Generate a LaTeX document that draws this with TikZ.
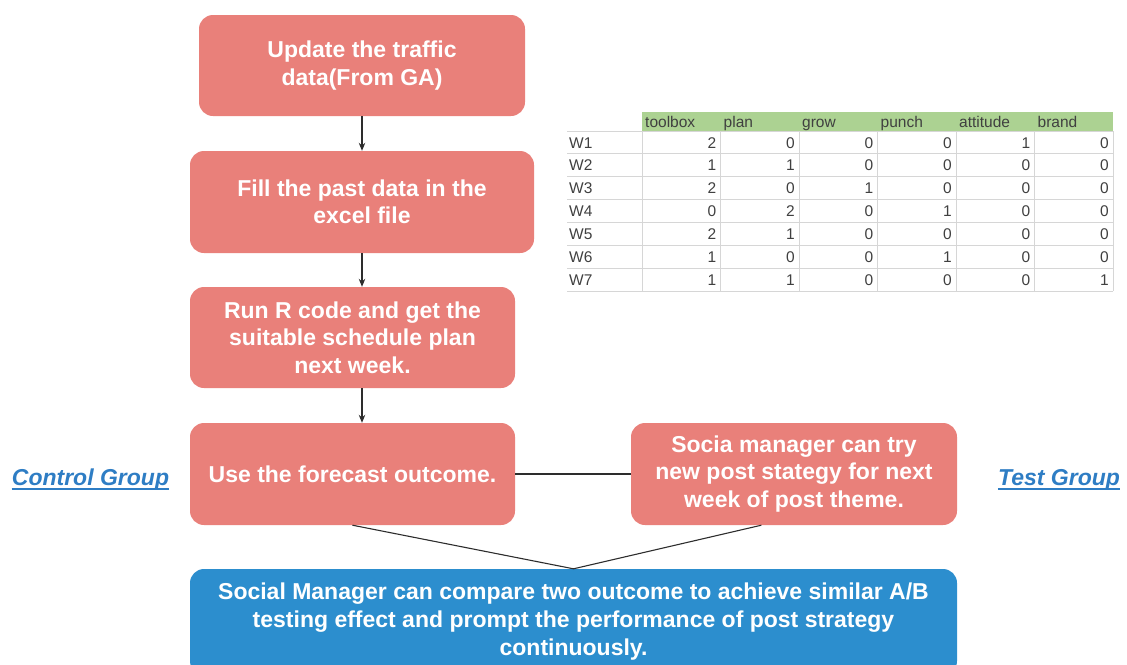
\documentclass[tikz,border=0pt]{standalone}
\usepackage{fontspec}
\setmainfont{Liberation Sans}
\usetikzlibrary{arrows.meta,calc}
\definecolor{salmon}{RGB}{233,128,122}
\definecolor{bluebox}{RGB}{44,142,206}
\definecolor{grplbl}{RGB}{46,125,196}
\definecolor{hdrgreen}{RGB}{172,210,146}
\definecolor{gridgray}{RGB}{214,214,214}
\definecolor{tabtext}{RGB}{64,64,64}
\definecolor{linegray}{RGB}{45,45,45}
\tikzset{
  flowbox/.style={rectangle, rounded corners=14pt, fill=salmon, text=white,
    font=\fontsize{23}{27.5}\selectfont\bfseries, align=center, inner sep=0pt},
  resultbox/.style={flowbox, fill=bluebox, font=\fontsize{23}{28}\selectfont\bfseries},
  arr/.style={draw=linegray, line width=1.2pt, -{Stealth[length=8pt,width=6.5pt]}},
  conn/.style={draw=linegray, line width=1.1pt},
  grplabel/.style={text=grplbl, font=\fontsize{23}{27.5}\selectfont\bfseries\itshape, inner sep=0pt, anchor=base},
  tabcell/.style={text=tabtext, font=\fontsize{15.5}{18}\selectfont, inner sep=0pt},
  gridline/.style={draw=gridgray, line width=0.8pt}
}
\begin{document}
\begin{tikzpicture}[x=1pt,y=-1pt]
\useasboundingbox (0,0) rectangle (1127,664);
% flow boxes
\node[flowbox, minimum width=326pt, minimum height=101pt] (b1) at (362,65.5) {Update the traffic\\data(From GA)};
\node[flowbox, minimum width=344pt, minimum height=102pt] (b2) at (362,202) {Fill the past data in the\\excel file};
\node[flowbox, minimum width=325pt, minimum height=101pt] (b3) at (352.5,337.5) {Run R code and get the\\suitable schedule plan\\next week.};
\node[flowbox, minimum width=325pt, minimum height=102pt] (b4) at (352.5,474) {Use the forecast outcome.};
\node[flowbox, minimum width=326pt, minimum height=102pt] (b5) at (794,474) {Socia manager can try\\new post stategy for next\\week of post theme.};
\node[resultbox, minimum width=767pt, minimum height=106pt] (b6) at (573.5,622) {Social Manager can compare two outcome to achieve similar A/B\\testing effect and prompt the performance of post strategy\\continuously.};
% arrows
\draw[arr] (b1.south) -- (b1.south |- b2.north);
\draw[arr] (b1.south |- b2.south) -- (b1.south |- b3.north);
\draw[arr] (b1.south |- b3.south) -- (b1.south |- b4.north);
% connectors
\draw[conn] (b4.east) -- (b5.west);
\coordinate (b5out) at ($(b5.south west)!0.40!(b5.south east)$);
\draw[conn] (b4.south) -- (b6.north) -- (b5out);
% group labels
\node[grplabel] (cg) at (90.5,485) {Control Group};
\draw[draw=grplbl, line width=1.4pt] ([yshift=-4pt]cg.base west) -- ([yshift=-4pt]cg.base east);
\node[grplabel] (tg) at (1059,485) {Test Group};
\draw[draw=grplbl, line width=1.4pt] ([yshift=-4pt]tg.base west) -- ([yshift=-4pt]tg.base east);
% table
\fill[hdrgreen] (642,112) rectangle (1113,131);
\foreach \i in {0,...,7} {
  \draw[gridline] (567,{131+\i*22.85}) -- (1113,{131+\i*22.85});
}
\foreach \k in {0,...,6} {
  \draw[gridline] ({642+\k*78.5},131) -- ({642+\k*78.5},291);
}
\foreach \h [count=\c] in {toolbox,plan,grow,punch,attitude,brand} {
  \node[tabcell, anchor=base west] (h-\c) at ({642+(\c-1)*78.5+3},127) {\h};
}
\foreach \r/\lab/\vals in {1/W1/{2,0,0,0,1,0}, 2/W2/{1,1,0,0,0,0}, 3/W3/{2,0,1,0,0,0}, 4/W4/{0,2,0,1,0,0}, 5/W5/{2,1,0,0,0,0}, 6/W6/{1,0,0,1,0,0}, 7/W7/{1,1,0,0,0,1}} {
  \node[tabcell, anchor=base west] (r-\r) at (569,{131+(\r-0.5)*22.85+5.6}) {\lab};
  \foreach \v [count=\c] in \vals {
    \node[tabcell, anchor=base east] (v-\r-\c) at ({642+\c*78.5-4},{131+(\r-0.5)*22.85+5.6}) {\v};
  }
}
\end{tikzpicture}
\end{document}
